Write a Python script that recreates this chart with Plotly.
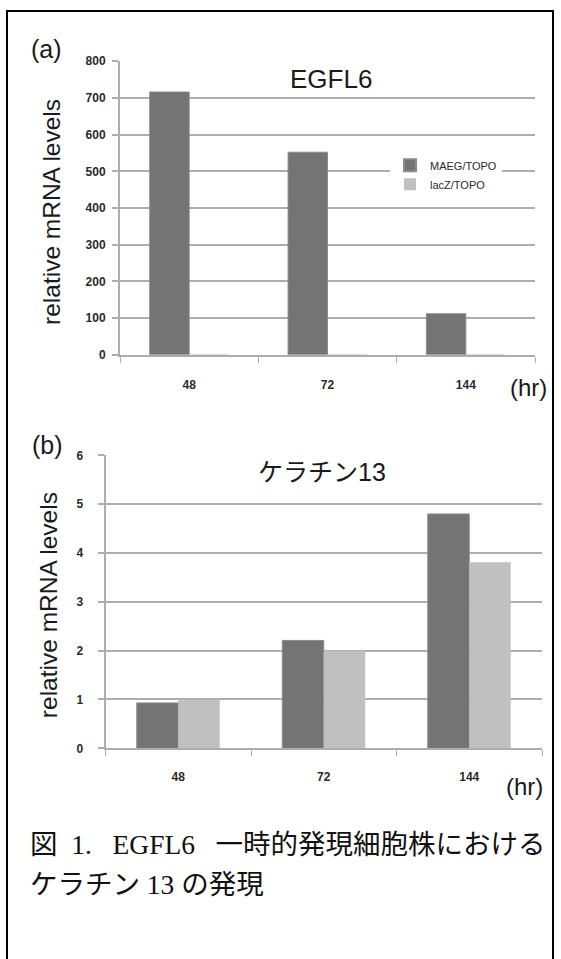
import plotly.graph_objects as go

categories = ["48", "72", "144"]
egfl6_maeg = [716, 552, 112]
egfl6_lacz = [1, 1, 1]
krt13_maeg = [0.93, 2.21, 4.80]
krt13_lacz = [1.0, 2.0, 3.81]
series_names = ["MAEG/TOPO", "lacZ/TOPO"]
yticks_a = [0, 100, 200, 300, 400, 500, 600, 700, 800]
yticks_b = [0, 1, 2, 3, 4, 5, 6]

W, H = 561, 959
DARK = "#747474"
LIGHT = "#c0c0c0"
GRID = "#adadad"
SANS = "Liberation Sans, Arial, Noto Sans CJK JP"

def px(x):
    return x / W

def py(y):
    return 1 - y / H

fig = go.Figure()
fig.add_trace(go.Bar(x=categories, y=egfl6_maeg, name=series_names[0], marker=dict(color=DARK, line=dict(color="#8a8a8a", width=1)),
                     xaxis="x", yaxis="y", showlegend=True))
fig.add_trace(go.Bar(x=categories, y=egfl6_lacz, name=series_names[1], marker=dict(color=LIGHT, line=dict(width=0)),
                     xaxis="x", yaxis="y", showlegend=True))
fig.add_trace(go.Bar(x=categories, y=krt13_maeg, name=series_names[0], marker=dict(color=DARK, line=dict(color="#8a8a8a", width=1)),
                     xaxis="x2", yaxis="y2", showlegend=False))
fig.add_trace(go.Bar(x=categories, y=krt13_lacz, name=series_names[1], marker=dict(color=LIGHT, line=dict(width=0)),
                     xaxis="x2", yaxis="y2", showlegend=False))

TICKFONT = dict(family=SANS, size=12, color="#2a2a2a", weight="bold")
xcommon = dict(type="category", showgrid=False, showline=True, linecolor=GRID, linewidth=2,
               ticks="outside", tickson="boundaries", ticklen=6, tickcolor=GRID, tickwidth=1,
               tickfont=TICKFONT, fixedrange=True)
ycommon = dict(showgrid=True, gridcolor=GRID, gridwidth=2, showline=True, linecolor=GRID, linewidth=2,
               ticks="outside", ticklen=6, tickcolor=GRID, tickwidth=2, zeroline=False,
               tickfont=TICKFONT, fixedrange=True)

fig.update_layout(
    width=W, height=H,
    margin=dict(l=0, r=0, t=0, b=0),
    paper_bgcolor="white", plot_bgcolor="white",
    barmode="group", bargap=0.43, bargroupgap=0,
    showlegend=True,
    legend=dict(x=px(390), y=py(146), xanchor="left", yanchor="top", bgcolor="white",
                font=dict(family=SANS, size=11, color="#2a2a2a"), itemwidth=30, tracegroupgap=0,
                itemsizing="constant"),
    xaxis=dict(domain=[px(120), px(535)], anchor="y", ticklabelstandoff=18, **xcommon),
    yaxis=dict(domain=[py(353), py(55)], anchor="x", range=[0, 800], tickvals=yticks_a, ticklabelstandoff=4, **ycommon),
    xaxis2=dict(domain=[px(105.5), px(542)], anchor="y2", ticklabelstandoff=16, **xcommon),
    yaxis2=dict(domain=[py(752.3), py(455)], anchor="x2", range=[0, 6], tickvals=yticks_b, ticklabelstandoff=12, **ycommon),
)

ann = []
def add(text, x, y, size, family=SANS, angle=0, xanchor="center", color="#1a1a1a"):
    ann.append(dict(text=text, x=px(x), y=py(y), xref="paper", yref="paper", showarrow=False,
                    xanchor=xanchor, yanchor="middle", textangle=angle,
                    font=dict(family=family, size=size, color=color)))

add("(a)", 46, 43, 25)
add("(b)", 47, 444, 25)
add("EGFL6", 331, 73, 26)
add("ケラチン13", 322, 472, 25)
add("relative mRNA levels", 52, 208, 24.5, angle=-90)
add("relative mRNA levels", 48, 607, 24.5, angle=-90)
add("(hr)", 528, 386, 24)
add("(hr)", 524, 791, 24)
SERIF = "Liberation Serif, Noto Sans CJK JP"
add("図\u00a0 1.\u00a0\u00a0 EGFL6\u00a0\u00a0 一時的発現細胞株における", 28, 850, 27.5, family=SERIF, xanchor="left", color="#111111")
add("ケラチン 13 の発現", 28, 891, 27.5, family=SERIF, xanchor="left", color="#111111")
fig.update_layout(annotations=ann)

fig.add_shape(type="rect", xref="paper", yref="paper", x0=px(7), x1=px(553), y0=py(970), y1=py(4),
              line=dict(color="black", width=2), fillcolor="rgba(0,0,0,0)", layer="above")

fig.write_html("out.html", config={"displayModeBar": False},
               post_script="document.body.style.margin='0';document.body.style.overflow='hidden';")
